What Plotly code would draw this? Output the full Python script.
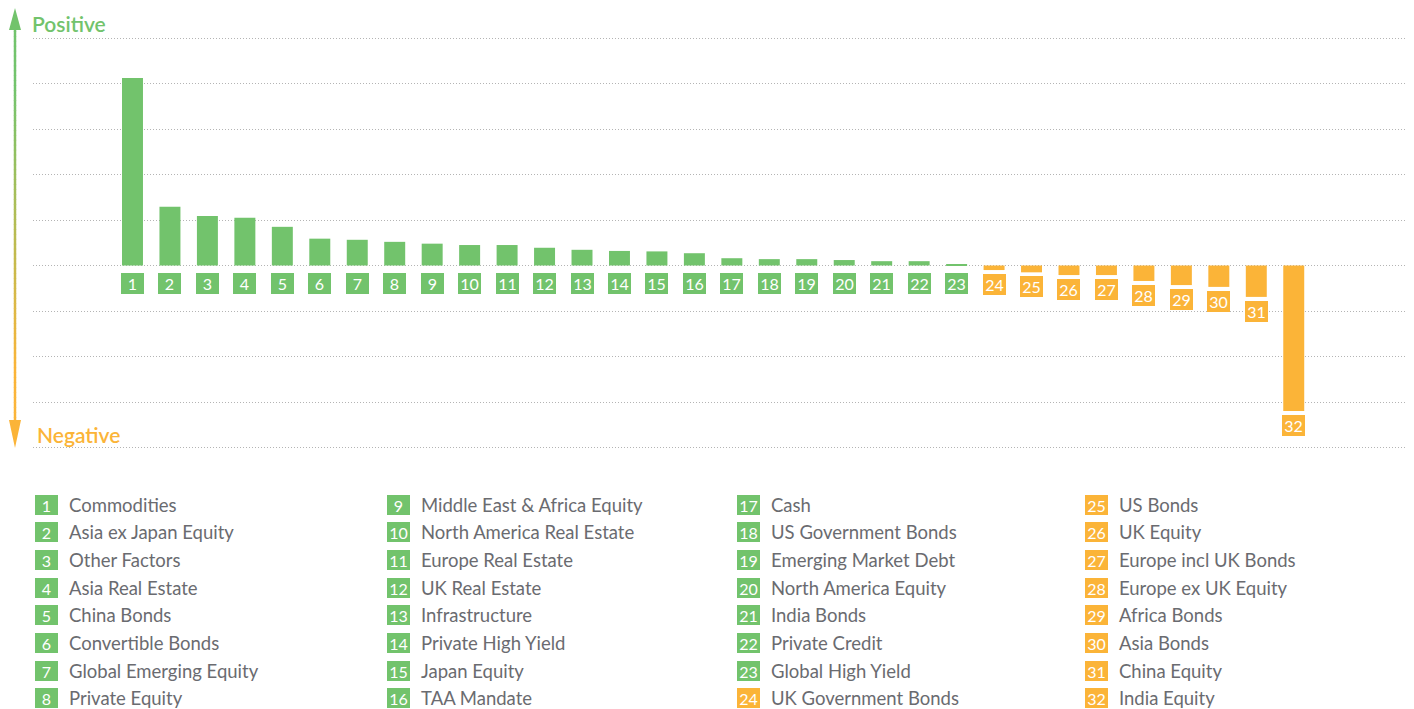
import plotly.graph_objects as go

categories = [
    "Commodities", "Asia ex Japan Equity", "Other Factors", "Asia Real Estate",
    "China Bonds", "Convertible Bonds", "Global Emerging Equity", "Private Equity",
    "Middle East & Africa Equity", "North America Real Estate", "Europe Real Estate",
    "UK Real Estate", "Infrastructure", "Private High Yield", "Japan Equity",
    "TAA Mandate", "Cash", "US Government Bonds", "Emerging Market Debt",
    "North America Equity", "India Bonds", "Private Credit", "Global High Yield",
    "UK Government Bonds", "US Bonds", "UK Equity", "Europe incl UK Bonds",
    "Europe ex UK Equity", "Africa Bonds", "Asia Bonds", "China Equity", "India Equity",
]
ranks = list(range(1, 33))
values = [4.12, 1.29, 1.09, 1.05, 0.85, 0.59, 0.565, 0.52, 0.48, 0.45, 0.45, 0.39,
          0.345, 0.32, 0.31, 0.27, 0.16, 0.14, 0.14, 0.12, 0.095, 0.095, 0.012,
          -0.10, -0.15, -0.21, -0.21, -0.34, -0.43, -0.47, -0.69, -3.2]

GREEN = "#72c36c"
ORANGE = "#fbb438"
TEXT = "#6a6b70"
FONT = "Lato, 'Open Sans', sans-serif"

OFF = 8  # page body margin
PAGE_W, PAGE_H = 1414, 709
W, H = PAGE_W - OFF, PAGE_H - OFF
# plot area in page pixels
L, R, T, B = 33, 1405, 30, 455
ZERO, UNIT = 265.5, 45.5


def px(x):
    return (x - L) / (R - L)


def py(y):
    return (B - y) / (B - T)


colors = [GREEN if v >= 0 else ORANGE for v in values]

fig = go.Figure()
fig.add_trace(go.Bar(x=ranks, y=values, marker=dict(color=colors, line=dict(width=0)),
                     hoverinfo="skip"))

annotations = []
for r, v, c in zip(ranks, values, colors):
    annotations.append(dict(
        x=r, y=min(v, 0), xref="x", yref="y", text=str(r), showarrow=False,
        xanchor="center", yanchor="top", yshift=-7 if v >= 0 else -4,
        bgcolor=c, width=23, height=21, borderpad=0, borderwidth=0,
        font=dict(family=FONT, size=16, color="white"),
    ))

col_x = [35, 387, 737, 1085]
row_y = [504.5, 532.2, 559.9, 587.6, 615.3, 643.0, 670.7, 698.4]
for i, (name, c) in enumerate(zip(categories, colors)):
    cx = col_x[i // 8]
    cy = row_y[i % 8]
    annotations.append(dict(
        x=px(cx), y=py(cy), xref="paper", yref="paper", text=str(ranks[i]),
        showarrow=False, xanchor="left", yanchor="middle", bgcolor=c,
        width=23, height=20, borderpad=0, borderwidth=0,
        font=dict(family=FONT, size=16, color="white"),
    ))
    annotations.append(dict(
        x=px(cx + 31.5), y=py(cy), xref="paper", yref="paper", text=name,
        showarrow=False, xanchor="left", yanchor="middle",
        font=dict(family=FONT, size=18.5, color=TEXT),
    ))

annotations.append(dict(x=px(30), y=py(23), xref="paper", yref="paper", text="Positive",
                        showarrow=False, xanchor="left", yanchor="middle",
                        font=dict(family=FONT, size=21, color=GREEN, weight=600)))
annotations.append(dict(x=px(35), y=py(434), xref="paper", yref="paper", text="Negative",
                        showarrow=False, xanchor="left", yanchor="middle",
                        font=dict(family=FONT, size=21, color=ORANGE, weight=600)))

shapes = []
g = (0x72, 0xc3, 0x6c)
o = (0xfb, 0xb4, 0x38)
y0, y1 = 26, 422
n = 80
for k in range(n):
    ya = y0 + (y1 - y0) * k / n
    yb = y0 + (y1 - y0) * (k + 1) / n
    ym = (ya + yb) / 2
    t = min(max((ym - 90) / (370 - 90), 0), 1)
    col = "rgb(%d,%d,%d)" % tuple(round(g[j] + (o[j] - g[j]) * t) for j in range(3))
    shapes.append(dict(type="line", xref="paper", yref="paper",
                       x0=px(15), x1=px(15), y0=py(ya), y1=py(yb + 0.6),
                       line=dict(color=col, width=2.5)))
shapes.append(dict(type="path", xref="paper", yref="paper",
                   path="M %f,%f L %f,%f L %f,%f Z" % (px(15), py(8), px(9), py(30), px(21), py(30)),
                   fillcolor=GREEN, line=dict(width=0)))
shapes.append(dict(type="path", xref="paper", yref="paper",
                   path="M %f,%f L %f,%f L %f,%f Z" % (px(15), py(448), px(9), py(420), px(21), py(420)),
                   fillcolor=ORANGE, line=dict(width=0)))

fig.update_layout(
    width=W, height=H,
    margin=dict(l=L - OFF, r=PAGE_W - R, t=T - OFF, b=PAGE_H - B, pad=0),
    paper_bgcolor="white", plot_bgcolor="white",
    showlegend=False, bargap=0.44,
    xaxis=dict(range=[-1.656, 34.97], showticklabels=False, showgrid=False,
               zeroline=False, showline=False, ticks=""),
    yaxis=dict(range=[(ZERO - B) / UNIT, (ZERO - T) / UNIT], dtick=1, tick0=0,
               showticklabels=False, showgrid=True, gridcolor="#b4b4b4",
               griddash="1px,2px", gridwidth=1,
               zeroline=False, showline=False, ticks=""),
    annotations=annotations, shapes=shapes,
    font=dict(family=FONT),
)

fig.write_html("out.html")
